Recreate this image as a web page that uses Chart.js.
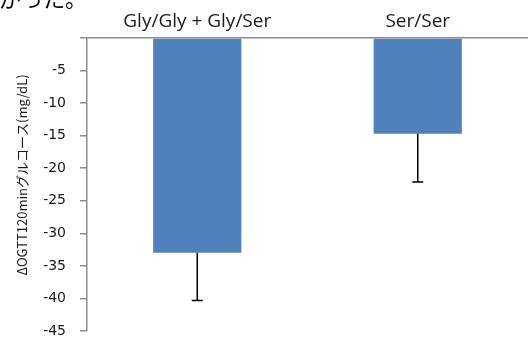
<!DOCTYPE html>
<html>
<head>
<meta charset="utf-8">
<script src="https://cdn.jsdelivr.net/npm/chart.js@4"></script>
<style>
  html, body { margin: 0; padding: 0; background: #ffffff; }
  #wrap { width: 528px; height: 340px; }
</style>
</head>
<body>
<div id="wrap"><canvas id="c" width="528" height="340"></canvas></div>
<script>
// Genotype groups and their mean change in 120-min OGTT glucose (mg/dL)
const groups = ['Gly/Gly + Gly/Ser', 'Ser/Ser'];
const meanChange = [-33.0, -14.7];
const sdChange = [7.3, 7.4];
const yTicks = [0, -5, -10, -15, -20, -25, -30, -35, -40, -45];
const yTitle = 'ΔOGTT120minグルコース(mg/dL)';
const captionTail = 'がった。';

// Downward error bars drawn from mean and SD via the value scale
const errorBars = {
  id: 'errorBars',
  afterDatasetsDraw(chart) {
    const ctx = chart.ctx;
    const y = chart.scales.y;
    const meta = chart.getDatasetMeta(0);
    ctx.save();
    ctx.strokeStyle = '#000000';
    ctx.lineWidth = 1.5;
    meta.data.forEach((bar, i) => {
      const y0 = y.getPixelForValue(meanChange[i]);
      const y1 = y.getPixelForValue(meanChange[i] - sdChange[i]);
      ctx.beginPath();
      ctx.moveTo(bar.x, y0);
      ctx.lineTo(bar.x, y1);
      ctx.moveTo(bar.x - 5.5, y1);
      ctx.lineTo(bar.x + 5.5, y1);
      ctx.stroke();
    });
    ctx.restore();
  }
};

// Rotated value-axis title and the cut-off end of the preceding paragraph
const annotations = {
  id: 'annotations',
  afterDraw(chart) {
    const ctx = chart.ctx;
    ctx.save();
    ctx.fillStyle = '#1a1a1a';
    ctx.font = '13px "Noto Sans CJK JP"';
    ctx.textAlign = 'center';
    ctx.textBaseline = 'middle';
    ctx.translate(22, 175);
    ctx.rotate(-Math.PI / 2);
    ctx.fillText(yTitle, 0, 0);
    ctx.restore();

    ctx.save();
    ctx.fillStyle = '#000000';
    ctx.font = '22px "Noto Sans CJK JP"';
    ctx.textBaseline = 'alphabetic';
    ctx.textAlign = 'left';
    ctx.fillText(captionTail, -1, 7);
    ctx.restore();
  }
};

new Chart(document.getElementById('c'), {
  type: 'bar',
  data: {
    labels: groups,
    datasets: [{
      data: meanChange,
      backgroundColor: '#4F81BD',
      borderWidth: 0,
      barPercentage: 0.4,
      categoryPercentage: 1.0
    }]
  },
  options: {
    responsive: false,
    animation: false,
    devicePixelRatio: 1,
    layout: { padding: { left: 0, right: 0, top: 0, bottom: 9 } },
    plugins: {
      legend: { display: false },
      tooltip: { enabled: false }
    },
    scales: {
      x: {
        position: 'top',
        grid: { display: false, drawTicks: false },
        border: { display: true, color: '#8c8c8c', width: 1.5 },
        ticks: {
          color: '#1a1a1a',
          font: { family: 'Open Sans', size: 19 },
          padding: 5,
          maxRotation: 0
        },
        afterFit(s) { s.height = 38; }
      },
      y: {
        min: -45,
        max: 0,
        afterBuildTicks(s) { s.ticks = yTicks.map(v => ({ value: v })); },
        grid: {
          display: true,
          drawOnChartArea: false,
          drawTicks: true,
          tickLength: 7,
          color: '#8c8c8c',
          lineWidth: 1.5
        },
        border: { display: true, color: '#8c8c8c', width: 1.5 },
        ticks: {
          color: '#1a1a1a',
          font: { family: 'DejaVu Sans', size: 14 },
          padding: 14,
          callback: v => (v === 0 ? '' : String(v))
        },
        afterFit(s) {
          s.width = 87;
          s.paddingTop = 0;
          s.paddingBottom = 0;
        }
      }
    }
  },
  plugins: [errorBars, annotations]
});
</script>
</body>
</html>
